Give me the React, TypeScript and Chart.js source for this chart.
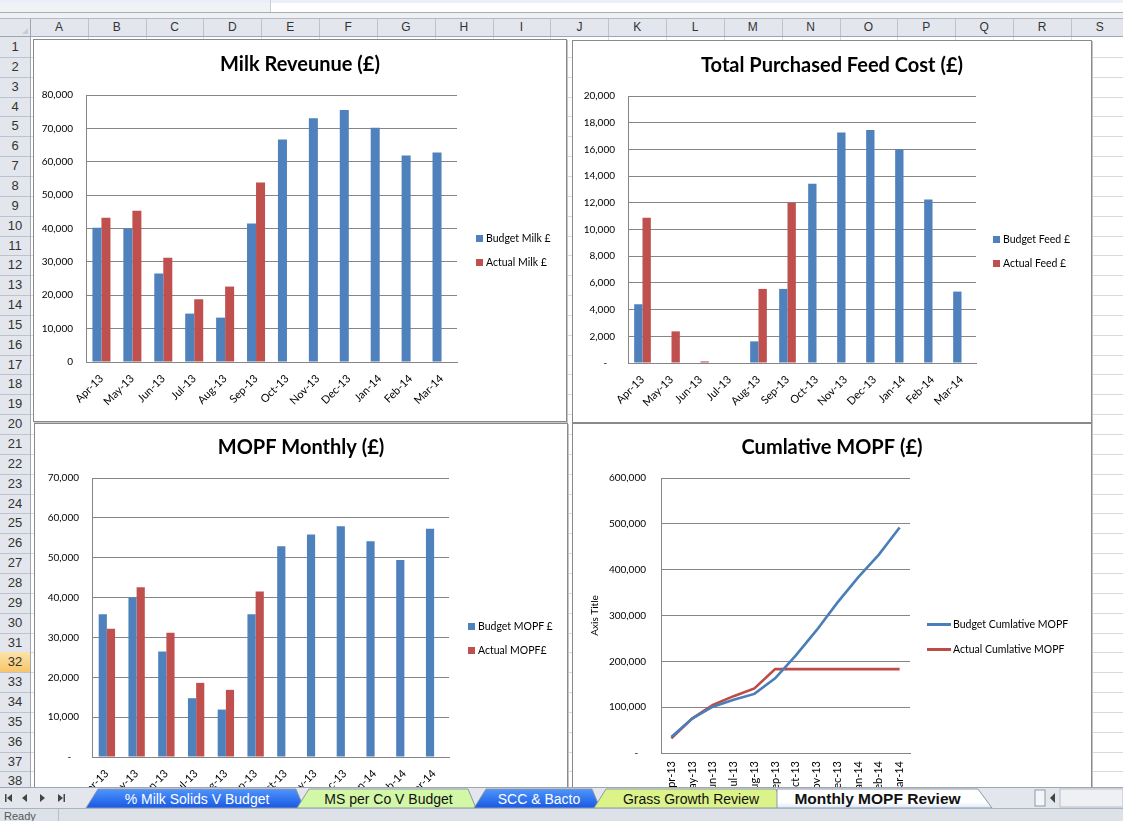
import React, { useEffect, useRef } from 'react';
import { Chart, registerables } from 'chart.js';

Chart.register(...registerables);

// ---------- data ----------
const months = ['Apr-13', 'May-13', 'Jun-13', 'Jul-13', 'Aug-13', 'Sep-13', 'Oct-13', 'Nov-13', 'Dec-13', 'Jan-14', 'Feb-14', 'Mar-14'];

const budgetMilk = [40200, 40000, 26500, 14500, 13300, 41500, 66700, 73000, 75500, 70200, 61900, 62800];
const actualMilk = [43200, 45300, 31200, 18800, 22600, 53800, null, null, null, null, null, null];

const budgetFeed = [4400, 0, 0, 0, 1620, 5550, 13420, 17260, 17460, 16010, 12250, 5350];
const actualFeed = [10880, 2370, 120, 0, 5550, 12000, null, null, null, null, null, null];

const budgetMopf = [35800, 40000, 26500, 14750, 11900, 35800, 52900, 55800, 57900, 54100, 49450, 57250];
const actualMopf = [32200, 42600, 31200, 18600, 16850, 41500, null, null, null, null, null, null];

const budgetCumMopf = [35000, 75000, 101000, 116000, 129000, 163000, 213000, 268000, 328000, 383000, 433000, 492000];
const actualCumMopf = [32000, 75000, 105000, 124000, 141000, 183000, 183000, 183000, 183000, 183000, 183000, 183000];

const columnLetters = ['A', 'B', 'C', 'D', 'E', 'F', 'G', 'H', 'I', 'J', 'K', 'L', 'M', 'N', 'O', 'P', 'Q', 'R', 'S'];
const rowCount = 39;
const selectedRow = 32;

const tabNames = ['% Milk Solids V Budget', 'MS per Co V Budget', 'SCC & Bacto', 'Grass Growth Review', 'Monthly MOPF Review'];
const tabKinds = ['blue', 'green', 'blue', 'lime', 'active'];

// ---------- styling ----------
const BLUE = '#4F81BD';
const RED = '#C0504D';
const LINE_BLUE = '#4A7EBB';
const LINE_RED = '#BE4B48';
const GRID = '#868686';
const FONT = 'Lato, "Open Sans", sans-serif';
const UI_FONT = '"Liberation Sans", Arial, sans-serif';

const COL_W = 57.83;
const COL_X0 = 30;
const ROW_H = 19.85;
const ROW_Y0 = 37;

type Rect = { left: number; top: number; width: number; height: number };
type Plot = { left: number; right: number; top: number; bottom: number };
type Series = { label: string; data: (number | null)[]; color: string };

type PanelSpec = {
  frame: Rect;
  plot: Plot;
  title: string;
  titleY: number;
  kind: 'bar' | 'line';
  series: Series[];
  yMax: number;
  yStep: number;
  zeroLabel: string;
  rotation: number;
  catPct: number;
  legendMarkerX: number;
  legendTextX: number;
  legendY: number[];
  yTitle?: string;
  labelPad: number;
};

function fmt(v: number, zero: string) {
  if (v === 0) return zero;
  return Number(v).toLocaleString('en-US');
}

function ChartPanel({ spec }: { spec: PanelSpec }) {
  const ref = useRef<HTMLCanvasElement | null>(null);
  const W = spec.frame.width - 2;
  const H = spec.frame.height - 2;

  useEffect(() => {
    if (!ref.current) return;
    const titleSize = 20;
    const lh = titleSize * 1.2;
    const padTop = spec.titleY - lh / 2;
    const padBottom = spec.plot.top - padTop - lh;
    const yWidth = spec.plot.left;
    const rightWidth = W - spec.plot.right;
    const xHeight = 64;
    const isBar = spec.kind === 'bar';

    const chart = new Chart(ref.current, {
      type: spec.kind,
      data: {
        labels: months,
        datasets: spec.series.map((s) =>
          isBar
            ? {
                label: s.label,
                data: s.data,
                backgroundColor: s.color,
                borderWidth: 0,
                categoryPercentage: spec.catPct,
                barPercentage: 1,
                yAxisID: 'y',
              }
            : {
                label: s.label,
                data: s.data,
                borderColor: s.color,
                backgroundColor: s.color,
                borderWidth: 2.6,
                pointRadius: 0,
                tension: 0,
                fill: false,
                yAxisID: 'y',
              }
        ) as any,
      },
      options: {
        responsive: false,
        animation: false,
        devicePixelRatio: 1,
        layout: {
          padding: {
            left: 0,
            right: 0,
            top: 0,
            bottom: H - spec.plot.bottom - xHeight,
          },
        },
        plugins: {
          legend: { display: false },
          tooltip: { enabled: false },
          title: {
            display: true,
            text: spec.title,
            color: '#000',
            font: { family: FONT, size: titleSize, weight: 'bold', lineHeight: 1.2 },
            padding: { top: padTop, bottom: padBottom },
          },
        },
        scales: {
          x: {
            offset: true,
            grid: { display: false, drawTicks: false },
            border: { display: true, color: GRID, width: 1 },
            ticks: {
              color: '#000',
              font: { family: FONT, size: 11 },
              autoSkip: false,
              maxRotation: spec.rotation,
              minRotation: spec.rotation,
              padding: spec.labelPad,
            },
            afterFit: (s: any) => {
              s.height = xHeight;
            },
          },
          y: {
            position: 'left',
            min: 0,
            max: spec.yMax,
            grid: { color: GRID, lineWidth: 1, drawTicks: false },
            border: { display: true, color: GRID, width: 1 },
            ticks: {
              stepSize: spec.yStep,
              color: '#000',
              font: { family: FONT, size: 10 },
              padding: isBar ? 13 : 15,
              callback: (v: any) => fmt(Number(v), spec.zeroLabel),
            },
            title: spec.yTitle
              ? {
                  display: true,
                  text: spec.yTitle,
                  color: '#000',
                  font: { family: FONT, size: 10 },
                  padding: { top: 16, bottom: 0 },
                }
              : { display: false },
            afterFit: (s: any) => {
              s.width = yWidth;
            },
          },
          side: {
            type: 'linear',
            position: 'right',
            display: true,
            min: 0,
            max: 1,
            grid: { display: false, drawTicks: false },
            border: { display: false },
            ticks: { display: false },
            afterFit: (s: any) => {
              s.width = rightWidth;
            },
          },
        },
      } as any,
    });
    return () => chart.destroy();
  }, []);

  return (
    <div
      style={{
        position: 'absolute',
        left: spec.frame.left,
        top: spec.frame.top,
        width: spec.frame.width,
        height: spec.frame.height,
        boxSizing: 'border-box',
        border: '1px solid #8a8a8a',
        boxShadow: '1px 1px 0 #c4c4c4',
        background: '#fff',
        zIndex: 2,
      }}
    >
      <canvas ref={ref} width={W} height={H} style={{ display: 'block', width: W, height: H }} />
      {spec.series.map((s, i) => (
        <div
          key={s.label}
          style={{
            position: 'absolute',
            left: 0,
            top: spec.legendY[i] - 7,
            height: 14,
            width: W,
            pointerEvents: 'none',
          }}
        >
          {spec.kind === 'bar' ? (
            <div
              style={{
                position: 'absolute',
                left: spec.legendMarkerX,
                top: 3.5,
                width: 7,
                height: 7,
                background: s.color,
              }}
            />
          ) : (
            <div
              style={{
                position: 'absolute',
                left: spec.legendMarkerX,
                top: 5.5,
                width: 24,
                height: 3,
                background: s.color,
              }}
            />
          )}
          <div
            style={{
              position: 'absolute',
              left: spec.legendTextX,
              top: 0,
              lineHeight: '14px',
              fontFamily: FONT,
              fontSize: 10.5,
              color: '#000',
              whiteSpace: 'nowrap',
            }}
          >
            {s.label}
          </div>
        </div>
      ))}
    </div>
  );
}

const panels: PanelSpec[] = [
  {
    frame: { left: 33, top: 39, width: 534, height: 383 },
    plot: { left: 52, right: 423, top: 55, bottom: 322 },
    title: 'Milk Reveunue (£)',
    titleY: 25,
    kind: 'bar',
    series: [
      { label: 'Budget Milk £', data: budgetMilk, color: BLUE },
      { label: 'Actual Milk £', data: actualMilk, color: RED },
    ],
    yMax: 80000,
    yStep: 10000,
    zeroLabel: '0',
    rotation: 45,
    catPct: 0.583,
    legendMarkerX: 442,
    legendTextX: 452,
    legendY: [198, 222],
    labelPad: 10,
  },
  {
    frame: { left: 572, top: 40, width: 520, height: 383 },
    plot: { left: 55, right: 403, top: 55, bottom: 322 },
    title: 'Total Purchased Feed Cost (£)',
    titleY: 25,
    kind: 'bar',
    series: [
      { label: 'Budget Feed £', data: budgetFeed, color: BLUE },
      { label: 'Actual Feed £', data: actualFeed, color: RED },
    ],
    yMax: 20000,
    yStep: 2000,
    zeroLabel: '-   ',
    rotation: 45,
    catPct: 0.575,
    legendMarkerX: 420,
    legendTextX: 430,
    legendY: [198, 222],
    labelPad: 10,
  },
  {
    frame: { left: 34, top: 423, width: 534, height: 400 },
    plot: { left: 57, right: 414, top: 54, bottom: 333 },
    title: 'MOPF Monthly (£)',
    titleY: 24,
    kind: 'bar',
    series: [
      { label: 'Budget MOPF £', data: budgetMopf, color: BLUE },
      { label: 'Actual MOPF£', data: actualMopf, color: RED },
    ],
    yMax: 70000,
    yStep: 10000,
    zeroLabel: '-   ',
    rotation: 45,
    catPct: 0.55,
    legendMarkerX: 433,
    legendTextX: 443,
    legendY: [202, 226],
    labelPad: 10,
  },
  {
    frame: { left: 572, top: 423, width: 520, height: 400 },
    plot: { left: 88, right: 337, top: 54, bottom: 329 },
    title: 'Cumlative MOPF (£)',
    titleY: 24,
    kind: 'line',
    series: [
      { label: 'Budget Cumlative MOPF', data: budgetCumMopf, color: LINE_BLUE },
      { label: 'Actual Cumlative MOPF', data: actualCumMopf, color: LINE_RED },
    ],
    yMax: 600000,
    yStep: 100000,
    zeroLabel: '-   ',
    rotation: 90,
    catPct: 0.8,
    legendMarkerX: 354,
    legendTextX: 380,
    legendY: [200, 225],
    yTitle: 'Axis Title',
    labelPad: 8,
  },
];

function rowTop(i: number) {
  return ROW_Y0 + (i - 1) * ROW_H;
}

function SheetGrid() {
  const cols = columnLetters.map((c, i) => {
    const x0 = COL_X0 + i * COL_W;
    return { c, x0, x1: x0 + COL_W };
  });
  const rows = Array.from({ length: rowCount }, (_, i) => i + 1);
  return (
    <>
      {/* top bars */}
      <div style={{ position: 'absolute', left: 0, top: 0, width: 1123, height: 3, background: '#eceffa' }} />
      <div style={{ position: 'absolute', left: 0, top: 3, width: 270, height: 9, background: '#f1f2f5' }} />
      <div style={{ position: 'absolute', left: 270, top: 0, width: 1, height: 12, background: '#c9ccd2' }} />
      <div style={{ position: 'absolute', left: 0, top: 12, width: 1123, height: 1, background: '#a9aeb6' }} />
      <div style={{ position: 'absolute', left: 0, top: 13, width: 1123, height: 5, background: '#eef0f3' }} />
      <div style={{ position: 'absolute', left: 0, top: 18, width: 1123, height: 1, background: '#b5bac2' }} />

      {/* header row */}
      <div style={{ position: 'absolute', left: 0, top: 19, width: 1123, height: 18, background: '#e3e7ed' }} />
      <div style={{ position: 'absolute', left: 0, top: 36, width: 1123, height: 1, background: '#9ea6b2' }} />
      <div
        style={{
          position: 'absolute',
          left: 22,
          top: 28,
          width: 0,
          height: 0,
          borderLeft: '6px solid transparent',
          borderBottom: '6px solid #c8ccd3',
        }}
      />
      {cols.map((col) => (
        <React.Fragment key={col.c}>
          <div
            style={{
              position: 'absolute',
              left: col.x0,
              top: 19,
              width: COL_W,
              height: 17,
              lineHeight: '17px',
              textAlign: 'center',
              fontFamily: UI_FONT,
              fontSize: 12,
              color: '#333',
            }}
          >
            {col.c}
          </div>
          <div style={{ position: 'absolute', left: Math.round(col.x0), top: 19, width: 1, height: 17, background: '#bcc3cc' }} />
          <div style={{ position: 'absolute', left: Math.round(col.x1), top: 37, width: 1, height: 760, background: '#d6d9de' }} />
        </React.Fragment>
      ))}

      {/* row header */}
      <div style={{ position: 'absolute', left: 0, top: 37, width: 30, height: 760, background: '#e3e7ed' }} />
      <div style={{ position: 'absolute', left: 30, top: 19, width: 1, height: 778, background: '#9ea6b2' }} />
      {rows.map((r) => {
        const y = rowTop(r);
        const sel = r === selectedRow;
        return (
          <React.Fragment key={r}>
            {sel && (
              <div
                style={{
                  position: 'absolute',
                  left: 0,
                  top: Math.round(y),
                  width: 30,
                  height: Math.round(ROW_H),
                  background: 'linear-gradient(#fbe3a8, #f7c56a)',
                }}
              />
            )}
            <div
              style={{
                position: 'absolute',
                left: 0,
                top: y,
                width: 30,
                height: ROW_H,
                lineHeight: ROW_H + 'px',
                textAlign: 'center',
                fontFamily: UI_FONT,
                fontSize: 13,
                color: '#333',
              }}
            >
              {r}
            </div>
            <div style={{ position: 'absolute', left: 0, top: Math.round(y + ROW_H), width: 30, height: 1, background: '#bcc3cc' }} />
            <div style={{ position: 'absolute', left: 31, top: Math.round(y + ROW_H), width: 1092, height: 1, background: '#d6d9de' }} />
          </React.Fragment>
        );
      })}
    </>
  );
}

function tabFill(kind: string) {
  if (kind === 'blue') return 'url(#tabBlue)';
  if (kind === 'green') return '#d2f7a6';
  if (kind === 'lime') return '#dcf38a';
  return 'url(#tabActive)';
}

const tabSpans = [
  [86, 300],
  [297, 472],
  [474, 596],
  [594, 780],
  [777, 982],
];

function TabBar() {
  return (
    <svg
      width={1123}
      height={34}
      style={{ position: 'absolute', left: 0, top: 787, zIndex: 5, display: 'block' }}
    >
      <defs>
        <linearGradient id="tabBlue" x1="0" y1="0" x2="0" y2="1">
          <stop offset="0" stopColor="#4f95fa" />
          <stop offset="1" stopColor="#1858e6" />
        </linearGradient>
        <linearGradient id="tabActive" x1="0" y1="0" x2="0" y2="1">
          <stop offset="0" stopColor="#ffffff" />
          <stop offset="0.7" stopColor="#ffffff" />
          <stop offset="1" stopColor="#dbe8fb" />
        </linearGradient>
      </defs>
      <rect x={0} y={0} width={1123} height={21} fill="#e3e7ed" />
      <rect x={0} y={0} width={1123} height={1} fill="#9ea6b2" />
      {/* nav arrows */}
      <rect x={5} y={7} width={1.5} height={8} fill="#444" />
      <polygon points="7,11 12,7 12,15" fill="#444" />
      <polygon points="22,11 27,7 27,15" fill="#444" />
      <polygon points="45,11 40,7 40,15" fill="#444" />
      <polygon points="63,11 58,7 58,15" fill="#444" />
      <rect x={63.5} y={7} width={1.5} height={8} fill="#444" />
      {tabNames.map((name, i) => {
        const [x0, x1] = tabSpans[i];
        const kind = tabKinds[i];
        const active = kind === 'active';
        const pts = active
          ? `${x0},2 ${x1 - 4},2 ${x1 + 10},21 ${x0},21`
          : `${x0},21 ${x0 + 12},2 ${x1 - 4},2 ${x1 + 4},21`;
        return (
          <g key={name}>
            <polygon points={pts} fill={tabFill(kind)} stroke="#8d99a8" strokeWidth={1} />
            <text
              x={(x0 + x1) / 2 + (active ? -2 : 4)}
              y={16.5}
              textAnchor="middle"
              fontFamily={UI_FONT}
              fontSize={active ? 15.5 : 14}
              fontWeight={active ? 'bold' : 'normal'}
              fill={kind === 'blue' ? '#ffffff' : '#111'}
            >
              {name}
            </text>
          </g>
        );
      })}
      {/* horizontal scroll controls */}
      <rect x={1035} y={3} width={10} height={16} fill="#f4f5f7" stroke="#8d99a8" />
      <polygon points="1050,11 1055,6 1055,16" fill="#444" />
      <rect x={1060} y={2} width={63} height={18} fill="#eef0f3" stroke="#b7bec8" />
      {/* status bar */}
      <rect x={0} y={21} width={1123} height={13} fill="#dde2e9" />
      <rect x={0} y={21} width={1123} height={1} fill="#aab2bd" />
      <rect x={58} y={22} width={1} height={12} fill="#b7bec8" />
      <text x={4} y={33} fontFamily={UI_FONT} fontSize={11} fill="#555">
        Ready
      </text>
    </svg>
  );
}

export default function App() {
  return (
    <div
      style={{
        position: 'fixed',
        left: 0,
        top: 0,
        width: 1123,
        height: 821,
        overflow: 'hidden',
        background: '#ffffff',
      }}
    >
      <SheetGrid />
      {panels.map((p) => (
        <ChartPanel key={p.title} spec={p} />
      ))}
      <TabBar />
    </div>
  );
}
